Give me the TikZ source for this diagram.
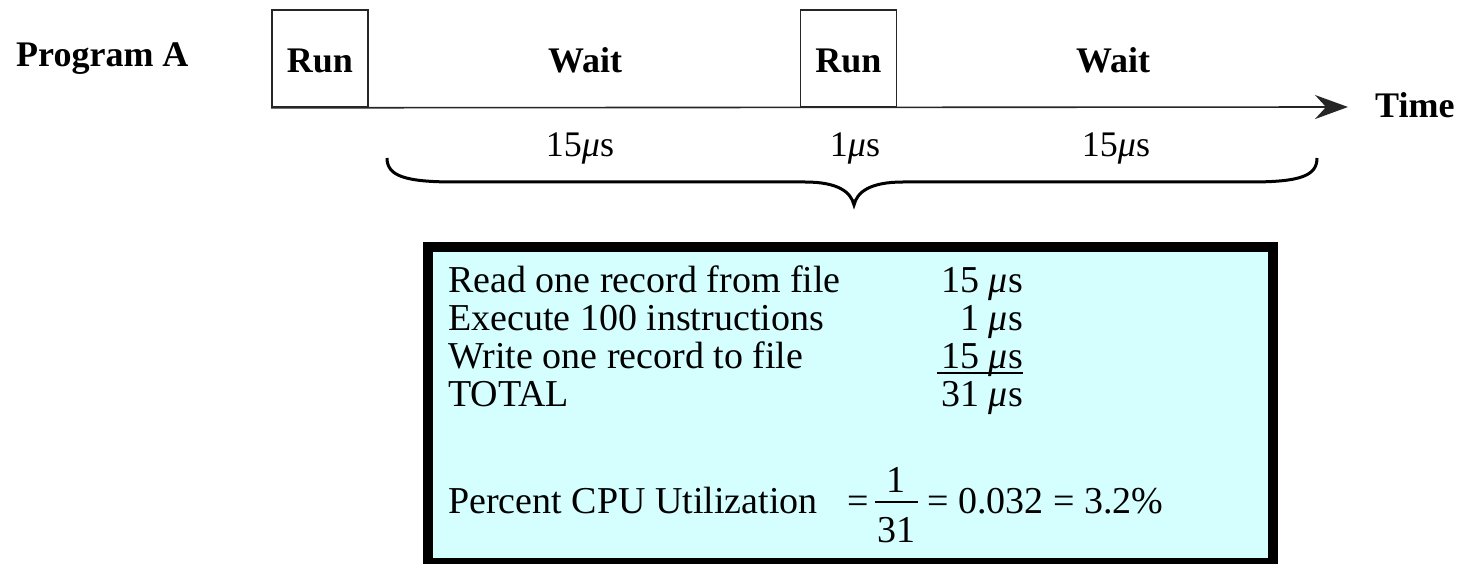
\documentclass[tikz,border=0pt]{standalone}
\usepackage{fontspec}
\setmainfont{Liberation Serif}
\usetikzlibrary{arrows.meta,positioning}
\definecolor{boxcyan}{RGB}{213,255,255}

\begin{document}
\begin{tikzpicture}[x=1pt,y=-1pt,
  lbl/.style={font=\fontsize{36}{36}\selectfont\bfseries,inner sep=0},
  runbox/.style={draw=black!85,line width=1.6pt,minimum width=96pt,minimum height=97pt,inner sep=0,text height=29pt,text depth=0pt,font=\fontsize{36}{36}\selectfont\bfseries},
  dur/.style={font=\fontsize{36}{36}\selectfont,inner sep=0},
  txt/.style={font=\fontsize{38}{38}\selectfont,inner sep=0},
  brace/.style={line width=3pt}]
\useasboundingbox (0,0) rectangle (1469,564);
\node[lbl,anchor=base west] (prog) at (16,67) {Program A};
\node[runbox] (run1) at (320,58.5) {Run};
\node[runbox] (run2) at (848.5,58.5) {Run};
\node[lbl,anchor=base] (wait1) at (585,73) {Wait};
\node[lbl,anchor=base] (wait2) at (1113,73) {Wait};
\node[lbl,anchor=base west] (time) at (1375,118) {Time};
\coordinate (tend) at (1348,107);
\draw[line width=1.6pt,draw=black!85,-{Stealth[length=33pt,width=24pt,inset=11pt]}] (run1.south west) -- (tend);
\node[dur,anchor=base] (d1) at (580,157) {15\textit{μ}s};
\node[dur,anchor=base] (d2) at (855,157) {1\textit{μ}s};
\node[dur,anchor=base] (d3) at (1116,157) {15\textit{μ}s};
\coordinate (bl) at (387,158);
\coordinate (btip) at (854,205);
\coordinate (br) at (1317,158);
\draw[brace] (bl) .. controls (387,176) and (405,182) .. (455,182) -- (805,182)
  .. controls (838,182) and (851,192) .. (btip)
  .. controls (857,192) and (870,182) .. (903,182) -- (1250,182)
  .. controls (1300,182) and (1317,176) .. (br);
\node[draw,fill=boxcyan,line width=10pt,minimum width=845pt,minimum height=316pt,inner sep=0] (sumbox) at (850.5,405) {};
\node[txt,anchor=base west] (r1) at (448,292) {Read one record from file};
\node[txt,anchor=base west] (r2) at (448,330) {Execute 100 instructions};
\node[txt,anchor=base west] (r3) at (448,368) {Write one record to file};
\node[txt,anchor=base west] (r4) at (448,406) {TOTAL};
\node[txt,anchor=base east] (v1) at (1023,292) {15 \textit{μ}s};
\node[txt,anchor=base east] (v2) at (1023,330) {1 \textit{μ}s};
\node[txt,anchor=base east] (v3) at (1023,368) {15 \textit{μ}s};
\node[txt,anchor=base east] (v4) at (1023,406) {31 \textit{μ}s};
\draw[line width=2pt] ([xshift=-4pt,yshift=-5pt]v3.base west) -- ([yshift=-5pt]v3.base east);
\node[txt,anchor=base west] (pct) at (448,513) {Percent CPU Utilization};
\node[txt,anchor=base west] (eq1) at (847,513) {=};
\node[txt,anchor=base] (num) at (896,492) {1};
\node[txt,anchor=base] (den) at (896,542) {31};
\draw[line width=1.6pt] (875,502) -- (918,502);
\node[txt,anchor=base west] (res) at (927,513) {= 0.032 = 3.2\%};
\end{tikzpicture}
\end{document}
